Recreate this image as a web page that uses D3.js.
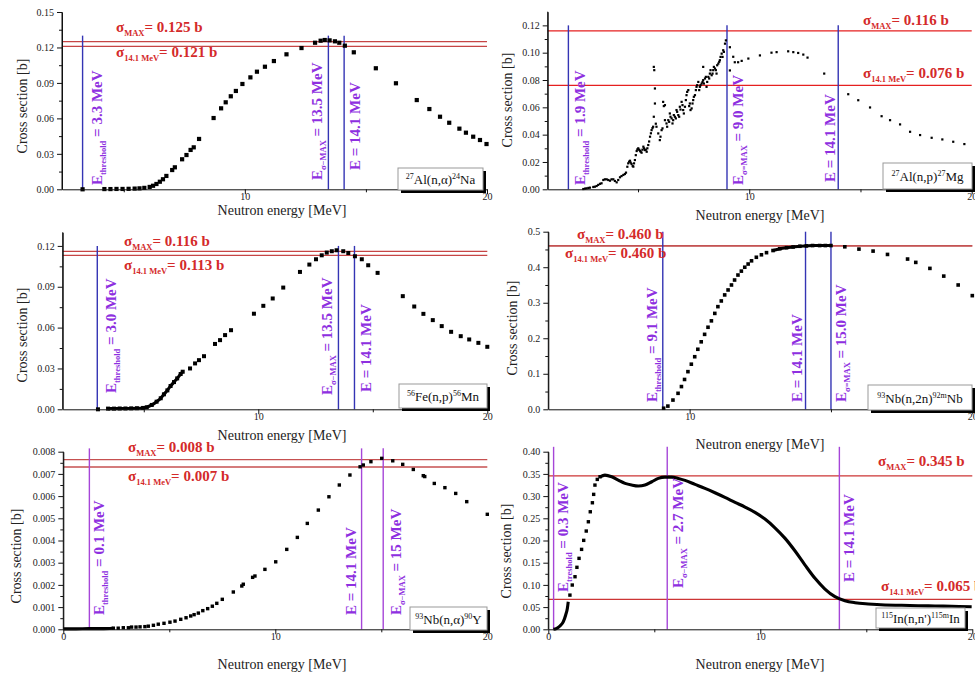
<!DOCTYPE html>
<html>
<head>
<meta charset="utf-8">
<script src="https://cdn.jsdelivr.net/npm/d3@7"></script>
<style>
  body { margin: 0; background: #fff; }
  svg { display: block; font-family: "Liberation Serif", "Times New Roman", serif; }
  .axis text { font-size: 10px; fill: #222; font-family: "Liberation Serif", serif; }
  .axis path, .axis line { stroke: #111; }
</style>
</head>
<body>
<svg id="chart" width="975" height="679"></svg>
<script>
//----------------------------//
//            DATA            //
//----------------------------//
// [energy MeV, cross section b]
const alNaPoints = [[3.3,0],[4.2,0.0002],[4.45,0.0002],[4.7,0.0003],[4.95,0.0003],[5.2,0.0004],[5.45,0.0006],[5.65,0.0008],[5.85,0.0012],
  [6.07,0.002],[6.21,0.003],[6.35,0.0045],[6.49,0.0064],[6.62,0.0085],[6.76,0.0113],[7.0,0.0163],[7.11,0.0186],[7.41,0.0254],[7.59,0.029],
  [7.76,0.0333],[7.89,0.0355],[8.11,0.0426],[8.71,0.0603],[9.02,0.0685],[9.21,0.0736],[9.42,0.0787],[9.63,0.0832],[9.9,0.0891],[10.23,0.0947],
  [10.5,0.0995],[10.83,0.1037],[11.2,0.1085],[11.72,0.1142],[12.34,0.1195],[12.9,0.124],[13.13,0.1257],[13.3,0.1263],[13.5,0.126],[13.72,0.1252],
  [13.9,0.124],[14.13,0.1215],[14.5,0.1159],[15.41,0.1024],[16.24,0.0897],[17.1,0.0755],[17.62,0.0679],[18.06,0.0614],[18.44,0.0563],
  [18.86,0.0513],[19.13,0.0479],[19.43,0.0445],[19.71,0.0417],[19.98,0.0383]];

const alMgPoints = [[2.54,0.0002],[2.62,0.0005],[2.69,0.0007],[2.77,0.001],[2.84,0.0012],[2.99,0.0017],[3.06,0.0019],[3.14,0.0024],[3.21,0.0032],
  [3.29,0.004],[3.36,0.0044],[3.44,0.0068],[3.51,0.0073],[3.59,0.0073],[3.66,0.0068],[3.74,0.0063],[3.81,0.0073],[3.89,0.0073],[3.96,0.0061],
  [4.04,0.0051],[4.11,0.0068],[4.19,0.0088],[4.26,0.0097],[4.34,0.0105],[4.41,0.0112],[4.46,0.0122],[4.52,0.0165],[4.56,0.019],[4.6,0.0202],
  [4.64,0.0209],[4.67,0.0195],[4.71,0.0185],[4.76,0.017],[4.79,0.0166],[4.82,0.019],[4.86,0.0214],[4.9,0.025],[4.94,0.028],[4.97,0.0292],
  [5.01,0.030],[5.05,0.029],[5.09,0.0282],[5.12,0.0275],[5.16,0.0268],[5.2,0.029],[5.24,0.0312],[5.27,0.030],[5.31,0.0287],[5.35,0.029],
  [5.39,0.0275],[5.42,0.030],[5.46,0.0324],[5.5,0.035],[5.54,0.0385],[5.58,0.041],[5.61,0.0433],[5.65,0.0448],[5.68,0.0458],[5.71,0.0531],
  [5.71,0.0896],[5.73,0.0872],[5.76,0.0738],[5.76,0.0628],[5.8,0.048],[5.83,0.0458],[5.91,0.0409],[5.98,0.036],[6.01,0.0385],[6.06,0.0433],
  [6.1,0.0446],[6.13,0.064],[6.16,0.0609],[6.21,0.0616],[6.21,0.0506],[6.28,0.0482],[6.31,0.0458],[6.36,0.0506],[6.4,0.0494],[6.43,0.0555],
  [6.46,0.0531],[6.51,0.0519],[6.55,0.0482],[6.58,0.0506],[6.61,0.0543],[6.66,0.0531],[6.7,0.0519],[6.73,0.058],[6.76,0.0567],[6.81,0.0543],
  [6.85,0.0531],[6.88,0.0604],[6.91,0.0584],[6.96,0.064],[7.0,0.0616],[7.03,0.058],[7.06,0.0555],[7.11,0.0604],[7.15,0.0653],[7.18,0.0689],
  [7.21,0.0713],[7.26,0.0726],[7.3,0.0609],[7.33,0.0628],[7.36,0.058],[7.41,0.0592],[7.45,0.0628],[7.48,0.0653],[7.51,0.0677],[7.56,0.0689],
  [7.6,0.0726],[7.63,0.075],[7.66,0.0762],[7.71,0.0786],[7.75,0.0726],[7.78,0.075],[7.81,0.0762],[7.86,0.0774],[7.9,0.0786],[7.93,0.0799],
  [7.93,0.0896],[7.96,0.0774],[8.01,0.0811],[8.05,0.0823],[8.08,0.075],[8.11,0.0786],[8.16,0.0823],[8.2,0.0811],[8.23,0.0847],[8.26,0.0872],
  [8.31,0.0835],[8.35,0.0847],[8.38,0.0872],[8.41,0.0896],[8.46,0.0884],[8.5,0.0872],[8.53,0.0847],[8.56,0.0908],[8.61,0.092],[8.65,0.0933],
  [8.68,0.0945],[8.71,0.0969],[8.76,0.0993],[8.8,0.0969],[8.83,0.1018],[8.86,0.1006],[8.91,0.1066],[8.95,0.109],
  [9.13,0.104],[9.28,0.097],[9.13,0.087],[9.35,0.093],[9.5,0.093],[9.66,0.094],[9.96,0.0957],[10.48,0.098],[11.0,0.100],[11.23,0.1004],
  [11.75,0.101],[11.98,0.1004],[12.2,0.0998],[12.43,0.0986],[12.62,0.0964],[13.37,0.0847],[14.45,0.0696],[14.9,0.0652],[15.43,0.0599],
  [15.95,0.0535],[16.33,0.0506],[16.78,0.0475],[17.23,0.0421],[17.68,0.0397],[18.2,0.0377],[18.68,0.0365],[19.17,0.0348],[19.67,0.0331]];

const feMnPoints = [[3.0,0],[3.44,0.0005],[3.7,0.0005],[3.95,0.0006],[4.2,0.0006],[4.45,0.0007],[4.7,0.0008],[4.97,0.001],[5.13,0.0015],
  [5.35,0.0032],[5.56,0.0056],[5.74,0.0081],[5.88,0.011],[6.03,0.0139],[6.17,0.0171],[6.32,0.02],[6.46,0.0227],[6.61,0.0259],[6.7,0.0276],
  [7.02,0.03],[7.24,0.0337],[7.41,0.0361],[7.63,0.039],[8.11,0.048],[8.33,0.0508],[8.55,0.0545],[8.81,0.0581],[9.81,0.0702],[10.22,0.076],
  [10.63,0.0814],[11.09,0.0894],[11.82,0.1009],[12.23,0.1063],[12.52,0.1102],[12.77,0.1131],[12.99,0.1151],[13.21,0.1161],[13.42,0.1168],
  [13.71,0.1161],[13.93,0.1148],[14.22,0.1124],[14.52,0.1102],[14.8,0.1058],[15.21,0.1002],[16.31,0.0831],[16.81,0.0755],[17.21,0.0701],
  [17.62,0.0655],[18.01,0.0611],[18.42,0.0569],[18.84,0.0537],[19.21,0.0513],[19.61,0.0488],[20.0,0.0459]];
const feMnCurve = [[3.44,0.0005],[4.2,0.0006],[4.97,0.001],[5.13,0.0015],[5.35,0.0032],[5.56,0.0056],[5.74,0.0081],[5.88,0.011],
  [6.03,0.0139],[6.17,0.0171],[6.32,0.02],[6.46,0.0227],[6.61,0.0259],[6.7,0.0276]];

const nb2nPoints = [[9.08,0.003],[9.23,0.009],[9.41,0.026],[9.59,0.045],[9.71,0.064],[9.82,0.084],[9.94,0.106],[10.06,0.127],[10.18,0.148],
  [10.29,0.169],[10.41,0.19],[10.53,0.211],[10.65,0.231],[10.77,0.249],[10.89,0.27],[11.0,0.289],[11.12,0.305],[11.24,0.322],[11.36,0.336],
  [11.48,0.35],[11.59,0.364],[11.71,0.378],[11.83,0.389],[11.95,0.40],[12.07,0.409],[12.19,0.418],[12.36,0.428],[12.54,0.435],[12.72,0.441],
  [12.95,0.447],[13.19,0.452],[13.43,0.455],[13.66,0.457],[13.9,0.459],[14.13,0.46],[14.35,0.461],[14.6,0.461],[14.8,0.461],[15.0,0.461],
  [15.49,0.4575],[15.99,0.451],[16.49,0.4454],[17.0,0.436],[17.71,0.423],[18.0,0.4136],[18.5,0.3967],[18.99,0.375],[19.5,0.35],[20.0,0.32]];
const nb2nCurve = [[12.95,0.447],[13.19,0.452],[13.43,0.455],[13.66,0.457],[13.9,0.459],[14.13,0.46],[14.35,0.461],[14.6,0.461],[14.8,0.461],[15.0,0.461]];

const nbYPoints = [[2.36,0.00005],[2.59,0.00005],[2.83,0.00007],[3.07,0.00007],[3.22,0.0001],[3.43,0.0001],[3.62,0.00011],[3.85,0.00012],
  [4.01,0.00014],[4.25,0.00018],[4.48,0.00023],[4.75,0.00027],[5.03,0.00032],[5.27,0.00037],[5.54,0.00045],[5.79,0.00052],[6.01,0.0006],
  [6.17,0.00066],[6.37,0.00073],[6.58,0.00084],[6.81,0.00093],[7.03,0.00104],[7.24,0.00117],[7.5,0.00135],[8.02,0.00168],[8.42,0.00195],
  [8.49,0.00203],[8.93,0.00234],[9.04,0.0024],[9.51,0.0027],[10.02,0.00304],[10.54,0.0036],[11.04,0.00414],[11.51,0.00477],[12.03,0.00537],
  [12.53,0.00597],[13.02,0.0065],[13.52,0.00695],[14.0,0.00732],[14.15,0.0074],[14.51,0.00755],[15.02,0.0077],[15.54,0.00759],[16.01,0.00743],
  [16.51,0.0072],[16.98,0.00692],[17.05,0.00688],[17.5,0.00657],[18.0,0.00638],[18.51,0.00612],[19.03,0.00575],[20.0,0.00518]];
const nbYCurve = [[0,0.00002],[0.6,0.00002],[1.2,0.00003],[1.8,0.00003],[2.36,0.00005]];

const inPoints = [[1.02,0.077],[1.13,0.0997],[1.26,0.1184],[1.35,0.1396],[1.45,0.1598],[1.57,0.18],[1.67,0.2003],[1.79,0.2213],[1.89,0.2422],
  [1.98,0.2647],[2.08,0.285],[2.14,0.3039],[2.2,0.3248],[2.31,0.3376],[2.44,0.3435]];
const inLowCurve = [[0.24,0],[0.4,0.0023],[0.55,0.0074],[0.71,0.0171],[0.82,0.0322],[0.9,0.0473],[0.94,0.0621]];
const inCurve = [[2.44,0.3435],[2.67,0.3473],[2.99,0.3435],[3.3,0.336],[3.62,0.3286],[3.93,0.3248],[4.25,0.3226],[4.56,0.3248],[4.88,0.3323],
  [5.19,0.3399],[5.5,0.3428],[5.82,0.3428],[6.13,0.3399],[6.45,0.3354],[6.92,0.3264],[7.39,0.3174],[7.86,0.3075],[8.33,0.2971],[8.81,0.2859],
  [9.28,0.2753],[9.75,0.2634],[10.22,0.2483],[10.69,0.2287],[11.17,0.2048],[11.64,0.1763],[12.11,0.1447],[12.58,0.1148],[13.05,0.0907],
  [13.52,0.0734],[13.99,0.0644],[14.47,0.0599],[15.09,0.057],[15.88,0.0547],[16.67,0.054],[17.45,0.0531],[18.24,0.0524],[19.03,0.0518],[19.97,0.0509]];

// marker energies (as drawn) and their labels
const alNaLines = [3.3, 13.45, 14.1];
const alMgLines = [1.87, 9.0, 14.0];
const feMnLines = [2.97, 13.5, 14.2];
const nb2nLines = [9.05, 14.1, 15.0];
const nbYLines = [1.23, 14.07, 15.09];
const inLines = [0.25, 5.61, 13.73];

const alNaLineText = [["threshold", "3.3 MeV"], ["σ−MAX", "13.5 MeV"], [null, "14.1 MeV"]];
const alMgLineText = [["threshold", "1.9 MeV"], ["σ=MAX", "9.0 MeV"], [null, "14.1 MeV"]];
const feMnLineText = [["threshold", "3.0 MeV"], ["σ−MAX", "13.5 MeV"], [null, "14.1 MeV"]];
const nb2nLineText = [["threshold", "9.1 MeV"], [null, "14.1 MeV"], ["σ=MAX", "15.0 MeV"]];
const nbYLineText = [["threshold", "0.1 MeV"], [null, "14.1 MeV"], ["σ−MAX", "15 MeV"]];
const inLineText = [["treshold", "0.3 MeV"], ["σ−MAX", "2.7 MeV"], [null, "14.1 MeV"]];

// horizontal sigma lines (as drawn) and their labels
const alNaSigma = [0.125, 0.121];
const alMgSigma = [0.116, 0.076];
const feMnSigma = [0.116, 0.113];
const nb2nSigma = [0.460, 0.460];
const nbYSigma = [0.00764, 0.00731];
const inSigma = [0.3457, 0.0675];

const alNaSigmaText = ["0.125 b", "0.121 b"];
const alMgSigmaText = ["0.116 b", "0.076 b"];
const feMnSigmaText = ["0.116 b", "0.113 b"];
const nb2nSigmaText = ["0.460 b", "0.460 b"];
const nbYSigmaText = ["0.008 b", "0.007 b"];
const inSigmaText = ["0.345 b", "0.065 b"];

// reaction names: [sup, text, sup, text]
const alNaName = ["27", "Al(n,α)", "24", "Na"];
const alMgName = ["27", "Al(n,p)", "27", "Mg"];
const feMnName = ["56", "Fe(n,p)", "56", "Mn"];
const nb2nName = ["93", "Nb(n,2n)", "92m", "Nb"];
const nbYName = ["93", "Nb(n,α)", "90", "Y"];
const inName = ["115", "In(n,n')", "115m", "In"];

// tick values
const alNaYTicks = [0, 0.03, 0.06, 0.09, 0.12, 0.15];
const alMgYTicks = [0, 0.02, 0.04, 0.06, 0.08, 0.10, 0.12];
const feMnYTicks = [0, 0.03, 0.06, 0.09, 0.12];
const nb2nYTicks = [0, 0.1, 0.2, 0.3, 0.4, 0.5];
const nbYYTicks = [0, 0.001, 0.002, 0.003, 0.004, 0.005, 0.006, 0.007, 0.008];
const inYTicks = [0, 0.05, 0.10, 0.15, 0.20, 0.25, 0.30, 0.35, 0.40];
const xTicksFrom0 = [0, 10, 20];
const xTicksFrom10 = [10, 20];
const xMinorTicks = [5, 15];

//----------------------------//
//           STYLES           //
//----------------------------//
const BLUE = "#3434b4";
const PURPLE_LINE = "#a646d8";
const LABEL = "#8e2fe0";
const RED_TEXT = "#d42a2a";

// --- Panel layout ---
const panels = [
    { pts: alNaPoints, curves: [], lines: alNaLines, lineText: alNaLineText, sig: alNaSigma, sigText: alNaSigmaText, name: alNaName,
      xDom: [2.45, 20], xRange: [62, 487], yDom: [0, 0.15], yRange: [189.3, 12], yTicks: alNaYTicks, yFmt: ".2f",
      xTicks: xTicksFrom10, lineTop: 0.13, lineColor: BLUE, redColor: "#c64545", dot: 4.2,
      sigPos: [[116, 32], [116, 57]], vPos: [[19, 185], [-6, 180], [16, 170]], box: [398, 168, 85, 22],
      yTitle: [22, 106], xTitle: [282, 215] },
    { pts: alMgPoints, curves: [], lines: alMgLines, lineText: alMgLineText, sig: alMgSigma, sigText: alMgSigmaText, name: alMgName,
      xDom: [0.94, 20], xRange: [547.7, 971.7], yDom: [0, 0.13], yRange: [189.3, 11.7], yTicks: alMgYTicks, yFmt: ".2f",
      xTicks: xTicksFrom10, lineTop: 0.12, lineColor: BLUE, redColor: "#e52020", dot: 2.2,
      sigPos: [[863, 25], [863, 78]], vPos: [[17, 185], [16, 185], [-3, 182]], box: [883, 163, 89, 26],
      yTitle: [507, 100], xTitle: [760, 220] },
    { pts: feMnPoints, curves: [feMnCurve], lines: feMnLines, lineText: feMnLineText, sig: feMnSigma, sigText: feMnSigmaText, name: feMnName,
      xDom: [1.46, 20], xRange: [62.7, 487.3], yDom: [0, 0.13], yRange: [409.3, 232.3], yTicks: feMnYTicks, yFmt: ".2f",
      xTicks: xTicksFrom10, lineTop: 0.12, lineColor: BLUE, redColor: "#c64545", dot: 4,
      sigPos: [[124, 246], [124, 270]], vPos: [[19, 393], [-6, 395], [17, 392]], box: [399, 384, 88, 24],
      yTitle: [22, 335], xTitle: [282, 440] },
    { pts: nb2nPoints, curves: [nb2nCurve], lines: nb2nLines, lineText: nb2nLineText, sig: nb2nSigma, sigText: nb2nSigmaText, name: nb2nName,
      xDom: [5, 20], xRange: [548.3, 972.3], yDom: [0, 0.5], yRange: [409.3, 231.7], yTicks: nb2nYTicks, yFmt: ".1f",
      xTicks: xTicksFrom10, lineTop: 0.5, lineColor: BLUE, redColor: "#c04848", dot: 3.6,
      sigPos: [[577, 239], [565, 258]], vPos: [[-6, 402], [-4, 402], [15, 402]], box: [868, 385, 104, 25],
      yTitle: [512, 328], xTitle: [760, 449] },
    { pts: nbYPoints, curves: [nbYCurve], lines: nbYLines, lineText: nbYLineText, sig: nbYSigma, sigText: nbYSigmaText, name: nbYName,
      xDom: [0, 20], xRange: [63.3, 487.3], yDom: [0, 0.008], yRange: [629.3, 451.7], yTicks: nbYYTicks, yFmt: ".3f",
      xTicks: xTicksFrom0, lineTop: 0.00815, lineColor: PURPLE_LINE, redColor: "#c65050", dot: 3.4,
      sigPos: [[128, 452], [128, 481]], vPos: [[15, 615], [-6, 615], [18, 615]], box: [410, 607, 77, 23],
      yTitle: [16, 556], xTitle: [282, 669] },
    { pts: inPoints, curves: [inLowCurve, inCurve], lines: inLines, lineText: inLineText, sig: inSigma, sigText: inSigmaText, name: inName,
      xDom: [0, 20], xRange: [548.3, 972.3], yDom: [0, 0.4], yRange: [629.3, 451.7], yTicks: inYTicks, yFmt: ".2f",
      xTicks: xTicksFrom0, lineTop: 0.411, lineColor: PURPLE_LINE, redColor: "#cc3535", dot: 3.4,
      sigPos: [[878, 466], [881, 591]], vPos: [[14, 592], [16, 588], [15, 582]], box: [876, 608, 89, 20],
      yTitle: [506, 551], xTitle: [760, 669] }
];

const svg = d3.select("#chart");

// --- Plotting Module ---
function drawPanel(p) {
    const x = d3.scaleLinear().domain(p.xDom).range(p.xRange);
    const y = d3.scaleLinear().domain(p.yDom).range(p.yRange);
    const g = svg.append("g");

    // red sigma lines
    g.selectAll(".hline").data(p.sig).enter().append("line")
        .attr("x1", p.xRange[0]).attr("x2", p.xRange[1])
        .attr("y1", d => y(d)).attr("y2", d => y(d))
        .attr("stroke", p.redColor).attr("stroke-width", 1.3);

    // vertical energy markers
    g.selectAll(".vline").data(p.lines).enter().append("line")
        .attr("x1", d => x(d)).attr("x2", d => x(d))
        .attr("y1", y(p.lineTop)).attr("y2", y(0))
        .attr("stroke", p.lineColor).attr("stroke-width", 1.4);

    // dense parts
    const line = d3.line().x(d => x(d[0])).y(d => y(d[1])).curve(d3.curveMonotoneX);
    p.curves.forEach(c => {
        g.append("path").datum(c).attr("d", line)
            .attr("fill", "none").attr("stroke", "#000").attr("stroke-width", 3.1);
    });

    // points
    g.selectAll(".dot").data(p.pts).enter().append("rect")
        .attr("x", d => x(d[0]) - p.dot / 2).attr("y", d => y(d[1]) - p.dot / 2)
        .attr("width", p.dot).attr("height", p.dot).attr("fill", "#000");

    // axes
    const ax = g.append("g").attr("class", "axis").attr("transform", `translate(0,${p.yRange[0]})`)
        .call(d3.axisBottom(x).tickValues(p.xTicks).tickSize(5).tickSizeOuter(0).tickFormat(d3.format("d")));
    ax.selectAll("text").attr("y", 4).attr("dy", "0.71em");
    g.append("g").attr("class", "axis").attr("transform", `translate(0,${p.yRange[0]})`)
        .call(d3.axisBottom(x).tickValues(xMinorTicks.filter(v => v > p.xDom[0])).tickSize(3).tickFormat(""))
        .select(".domain").remove();

    g.append("g").attr("class", "axis").attr("transform", `translate(${p.xRange[0]},0)`)
        .call(d3.axisLeft(y).tickValues(p.yTicks).tickSize(5).tickSizeOuter(0).tickFormat(d3.format(p.yFmt)));
    const minorY = p.yTicks.slice(1).map((v, i) => (v + p.yTicks[i]) / 2);
    g.append("g").attr("class", "axis").attr("transform", `translate(${p.xRange[0]},0)`)
        .call(d3.axisLeft(y).tickValues(minorY).tickSize(3).tickFormat(""))
        .select(".domain").remove();
    // y axis line up to the top of the range
    g.append("line").attr("x1", p.xRange[0]).attr("x2", p.xRange[0])
        .attr("y1", p.yRange[0]).attr("y2", p.yRange[1]).attr("stroke", "#111");

    // axis titles
    g.append("text").attr("transform", `translate(${p.yTitle[0]},${p.yTitle[1]}) rotate(-90)`)
        .attr("text-anchor", "middle").attr("dy", "0.35em").attr("font-size", 14).attr("fill", "#222")
        .text("Cross section [b]");
    g.append("text").attr("x", p.xTitle[0]).attr("y", p.xTitle[1])
        .attr("text-anchor", "middle").attr("font-size", 14).attr("fill", "#222")
        .text("Neutron energy [MeV]");

    // sigma labels
    const subs = ["MAX", "14.1 MeV"];
    p.sigText.forEach((t, i) => {
        const txt = g.append("text").attr("x", p.sigPos[i][0]).attr("y", p.sigPos[i][1])
            .attr("font-size", 15).attr("font-weight", "bold").attr("fill", RED_TEXT).style("white-space", "pre");
        txt.append("tspan").text("σ");
        txt.append("tspan").attr("font-size", 8.5).attr("dy", 4).text(subs[i]);
        txt.append("tspan").attr("dy", -4).text("= " + t);
    });

    // energy labels (rotated)
    p.lineText.forEach((t, i) => {
        const bx = x(p.lines[i]) + p.vPos[i][0];
        const txt = g.append("text").attr("transform", `translate(${bx},${p.vPos[i][1]}) rotate(-90)`)
            .attr("font-size", 15).attr("font-weight", "bold").attr("fill", LABEL).style("white-space", "pre");
        txt.append("tspan").text("E");
        if (t[0]) {
            txt.append("tspan").attr("font-size", 8.5).attr("dy", 4).text(t[0]);
            txt.append("tspan").attr("dy", -4).text(" = " + t[1]);
        } else {
            txt.append("tspan").text(" = " + t[1]);
        }
    });

    // reaction box with shadow
    const [bx, by, bw, bh] = p.box;
    g.append("rect").attr("x", bx + 3).attr("y", by + 3).attr("width", bw).attr("height", bh).attr("fill", "#000");
    g.append("rect").attr("x", bx).attr("y", by).attr("width", bw).attr("height", bh)
        .attr("fill", "#fff").attr("stroke", "#999").attr("stroke-width", 1);
    const nt = g.append("text").attr("x", bx + bw / 2).attr("y", by + bh / 2 + 5)
        .attr("text-anchor", "middle").attr("font-size", 13).attr("fill", "#111");
    nt.append("tspan").attr("font-size", 8).attr("dy", -5).text(p.name[0]);
    nt.append("tspan").attr("dy", 5).text(p.name[1]);
    nt.append("tspan").attr("font-size", 8).attr("dy", -5).text(p.name[2]);
    nt.append("tspan").attr("dy", 5).text(p.name[3]);
}

// --- Main Execution ---
panels.forEach(drawPanel);
</script>
</body>
</html>
